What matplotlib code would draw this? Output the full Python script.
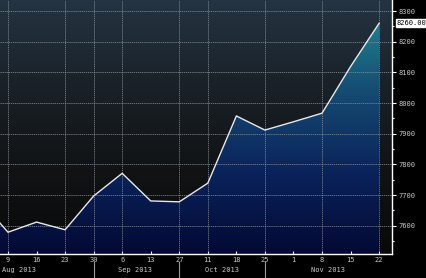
import numpy as np
import matplotlib.pyplot as plt
import matplotlib.transforms as mtransforms
from matplotlib.colors import LinearSegmentedColormap

# weekly values, first point (2 Aug) sits just off the left edge
day_labels = ["2", "9", "16", "23", "30", "6", "13", "27", "11", "18", "25", "1", "8", "15", "22"]
values = [7685, 7579, 7612, 7587, 7697, 7771, 7681, 7678, 7739, 7958, 7912, 7939, 7967, 8119, 8260]
month_labels = ["Aug 2013", "Sep 2013", "Oct 2013", "Nov 2013"]
month_pos = [0.39, 4.46, 7.5, 11.2]
month_sep = [3, 6, 9]
grid_x = [0, 2, 3, 4, 6, 7, 9, 11, 13]

x = np.arange(len(values)) - 1
mono = "DejaVu Sans Mono"
fs = 5

fig = plt.figure(figsize=(4.27, 2.78), dpi=100, facecolor="black")
ax = fig.add_axes([0, 24 / 278, 392.5 / 427, 254 / 278])
ax.set_facecolor("black")
x0, x1 = -0.28, 13.47
y0, y1 = 7508, 8336
ax.set_xlim(x0, x1)
ax.set_ylim(y0, y1)

# background gradient
bg = LinearSegmentedColormap.from_list("bg", ["#090909", "#111315", "#1a2128", "#243442"])
grad = np.linspace(0, 1, 256).reshape(-1, 1)
ax.imshow(grad, cmap=bg, aspect="auto", extent=[x0, x1, y0, y1], origin="lower", zorder=0)

# area fill with vertical gradient
fillmap = LinearSegmentedColormap.from_list("fill", ["#030934", "#0a225a", "#154870", "#1f8290"])
poly = ax.fill_between(x, values, y0, facecolor="none", edgecolor="none", zorder=1)
im = ax.imshow(grad, cmap=fillmap, aspect="auto", extent=[x0, x1, y0, 8280], origin="lower", zorder=1)
im.set_clip_path(poly.get_paths()[0], transform=ax.transData)

# grid
for gx in grid_x:
    ax.axvline(gx, color="#8a929a", lw=0.6, ls=(0, (1.5, 1)), alpha=0.85, zorder=2)
for gy in range(7600, 8301, 100):
    ax.axhline(gy, color="#8a929a", lw=0.6, ls=(0, (1.5, 1)), alpha=0.85, zorder=2)

ax.plot(x, values, color="#e8e8e8", lw=1.0, zorder=3)

# axes styling
for s in ["top", "left"]:
    ax.spines[s].set_visible(False)
for s in ["right", "bottom"]:
    ax.spines[s].set_color("white")
    ax.spines[s].set_linewidth(1.0)

ax.yaxis.tick_right()
ax.set_yticks(range(7600, 8301, 100))
ax.set_yticks(range(7550, 8301, 50), minor=True)
ax.tick_params(axis="y", which="major", length=3, width=0.8, color="white",
               labelsize=fs, labelcolor="#c8c8c8", pad=1.5)
ax.tick_params(axis="y", which="minor", length=1.5, width=0.8, color="white")
for lab in ax.get_yticklabels():
    lab.set_family(mono)

ax.set_xticks(x[1:])
ax.set_xticklabels(day_labels[1:])
ax.tick_params(axis="x", direction="in", length=2, width=0.8, color="white",
               labelsize=fs, labelcolor="#c8c8c8", pad=2)
for lab in ax.get_xticklabels():
    lab.set_family(mono)

trans = mtransforms.blended_transform_factory(ax.transData, fig.transFigure)
for m, p in zip(month_labels, month_pos):
    ax.text(p, 8 / 278, m, transform=trans, ha="center", va="center",
            fontsize=fs, family=mono, color="#c8c8c8", clip_on=False)
for s in month_sep:
    ax.plot([s, s], [0, 16 / 278], transform=trans, color="#9a9a9a", lw=0.8, clip_on=False)

# last value box
ytrans = mtransforms.blended_transform_factory(ax.transAxes, ax.transData)
ax.text(1.01, values[-1], "%.2f" % values[-1], transform=ytrans, ha="left", va="center",
        fontsize=fs, family=mono, color="black", clip_on=False,
        bbox=dict(boxstyle="square,pad=0.12", facecolor="white", edgecolor="white"))

fig.savefig("out.png", dpi=100, facecolor="black")
